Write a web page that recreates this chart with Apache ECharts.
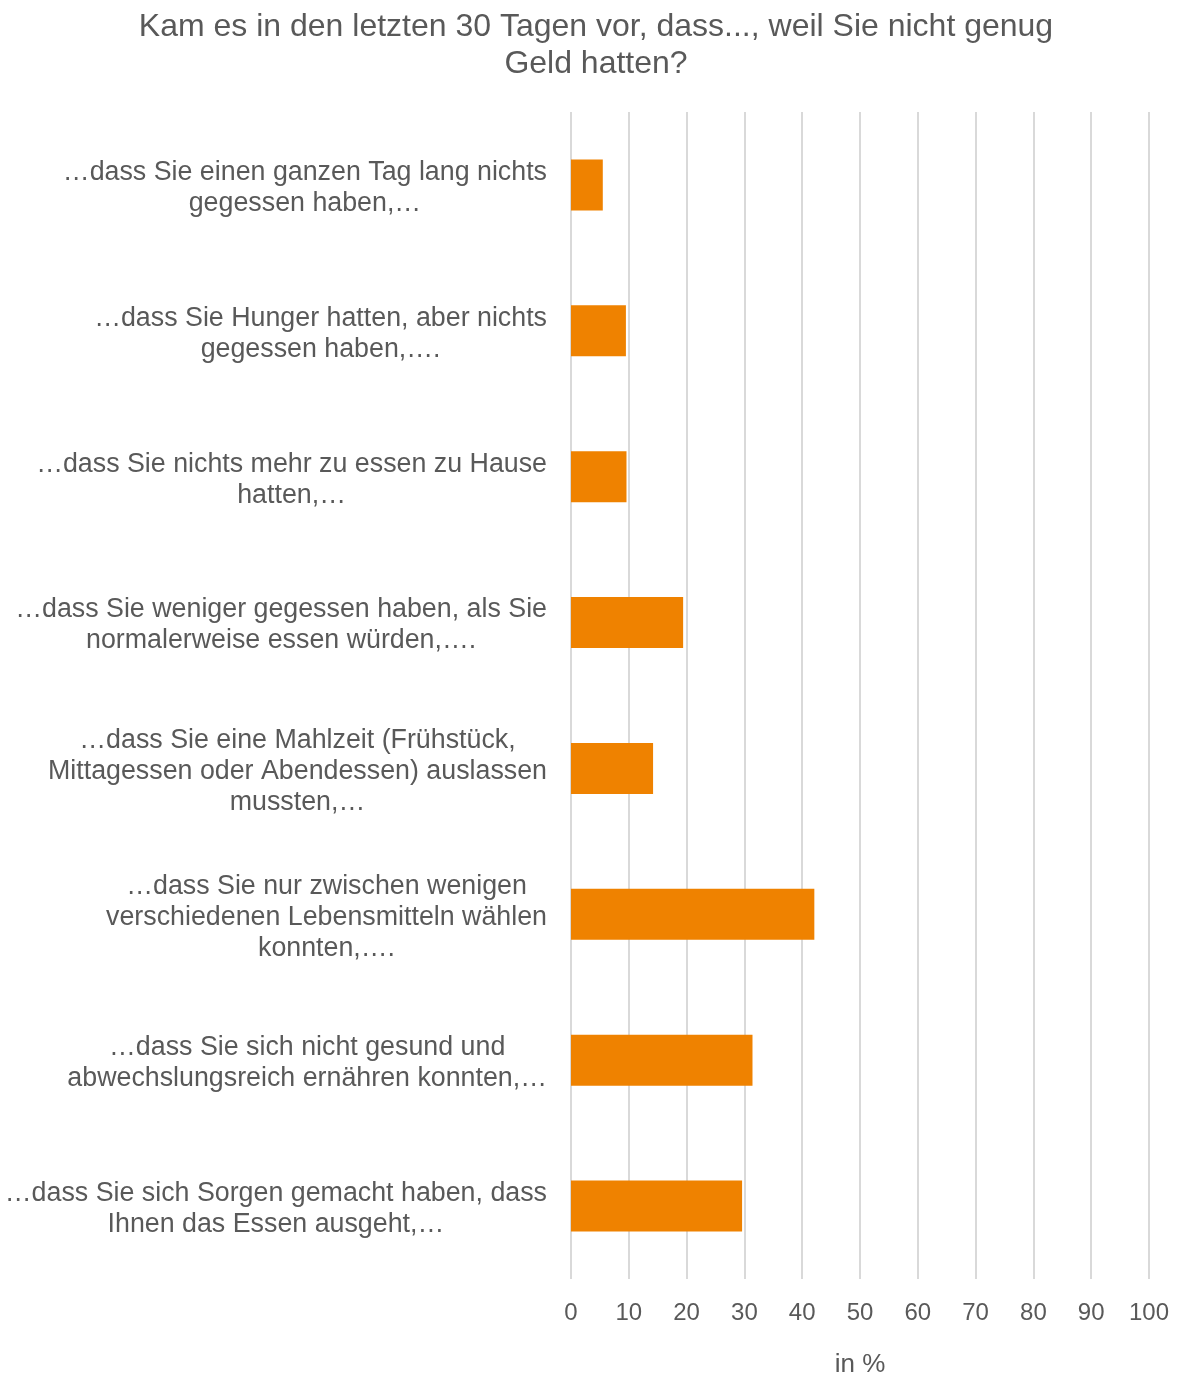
<!DOCTYPE html>
<html>
<head>
<meta charset="utf-8">
<script src="https://cdn.jsdelivr.net/npm/echarts@6/dist/echarts.min.js"></script>
<style>
  html, body { margin: 0; padding: 0; background: #fff; }
  #chart { width: 1179px; height: 1374px; }
</style>
</head>
<body>
<div id="chart"></div>
<script>
// Survey items, top to bottom (manual line breaks)
const categories = [
  '…dass Sie einen ganzen Tag lang nichts\ngegessen haben,…',
  '…dass Sie Hunger hatten, aber nichts\ngegessen haben,….',
  '…dass Sie nichts mehr zu essen zu Hause\nhatten,…',
  '…dass Sie weniger gegessen haben, als Sie\nnormalerweise essen würden,….',
  '…dass Sie eine Mahlzeit (Frühstück,\nMittagessen oder Abendessen) auslassen\nmussten,…',
  '…dass Sie nur zwischen wenigen\nverschiedenen Lebensmitteln wählen\nkonnten,….',
  '…dass Sie sich nicht gesund und\nabwechslungsreich ernähren konnten,…',
  '…dass Sie sich Sorgen gemacht haben, dass\nIhnen das Essen ausgeht,…'
];

// Share of respondents in %
const values = [5.5, 9.5, 9.6, 19.4, 14.2, 42.1, 31.4, 29.6];

const xTicks = [0, 10, 20, 30, 40, 50, 60, 70, 80, 90, 100];

const titleText = 'Kam es in den letzten 30 Tagen vor, dass..., weil Sie nicht genug\nGeld hatten?';
const axisName = 'in %';

const textColor = '#595959';
const font = '"Liberation Sans", Arial, sans-serif';

const chart = echarts.init(document.getElementById('chart'), null, { renderer: 'canvas' });

chart.setOption({
  animation: false,
  backgroundColor: '#ffffff',
  title: {
    text: titleText,
    left: 596,
    top: 9,
    padding: 0,
    textAlign: 'center',
    textStyle: {
      color: textColor,
      fontFamily: font,
      fontSize: 32,
      fontWeight: 'normal',
      lineHeight: 37
    }
  },
  grid: {
    left: 571,
    right: 30,
    top: 112,
    bottom: 95,
    containLabel: false,
    outerBoundsMode: 'none'
  },
  xAxis: {
    type: 'value',
    min: 0,
    max: 100,
    interval: 10,
    name: axisName,
    nameLocation: 'middle',
    nameGap: 73,
    nameTextStyle: { color: textColor, fontFamily: font, fontSize: 26 },
    axisLine: { show: false },
    axisTick: { show: false },
    axisLabel: {
      color: textColor,
      fontFamily: font,
      fontSize: 24,
      margin: 22,
      formatter: v => xTicks.includes(v) ? String(v) : ''
    },
    splitLine: { show: true, lineStyle: { color: '#d9d9d9', width: 2 } }
  },
  yAxis: {
    type: 'category',
    data: categories,
    inverse: true,
    axisLine: { show: false },
    axisTick: { show: false },
    axisLabel: {
      margin: 24,
      align: 'right',
      padding: [6, 0, 0, 0],
      formatter: v => v.split('\n').map(l => '{c|' + l + '}').join('\n'),
      rich: {
        c: {
          align: 'center',
          color: textColor,
          fontFamily: font,
          fontSize: 26.8,
          lineHeight: 31
        }
      }
    }
  },
  series: [{
    type: 'bar',
    data: values,
    barWidth: 51,
    itemStyle: { color: '#ef8200' }
  }]
});
</script>
</body>
</html>
